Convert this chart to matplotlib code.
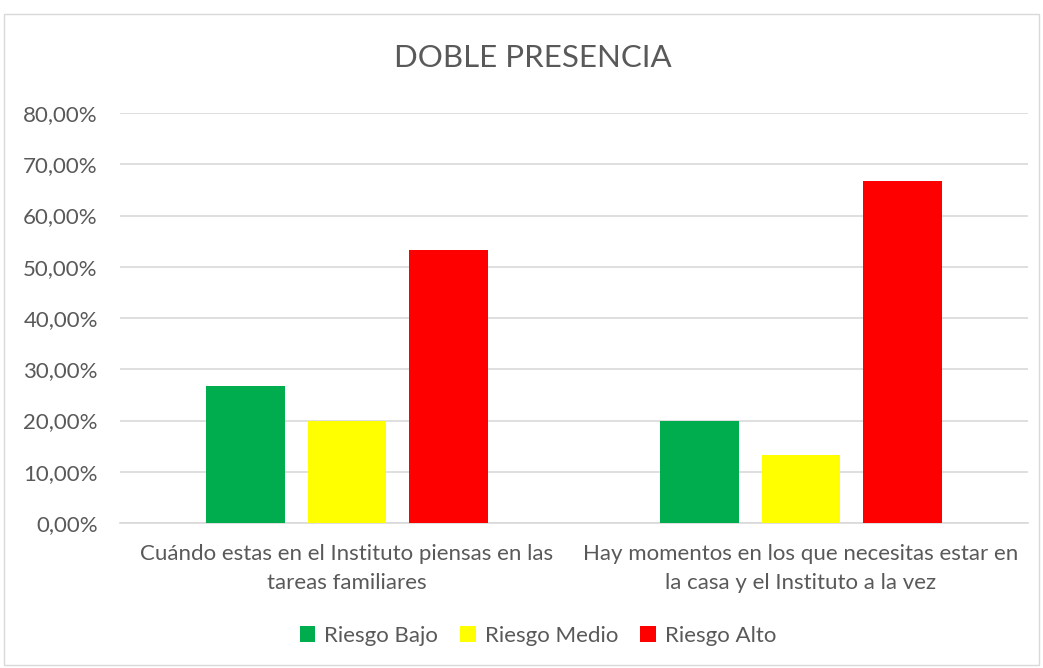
import numpy as np
import matplotlib.pyplot as plt
from matplotlib.patches import Rectangle
from matplotlib.ticker import FuncFormatter

plt.rcParams['font.family'] = ['Lato', 'DejaVu Sans']

# data
categorias = ['Cuándo estas en el Instituto piensas en las\ntareas familiares',
              'Hay momentos en los que necesitas estar en\nla casa y el Instituto a la vez']
series = ['Riesgo Bajo', 'Riesgo Medio', 'Riesgo Alto']
riesgo_bajo = [26.67, 20.00]
riesgo_medio = [20.00, 13.33]
riesgo_alto = [53.33, 66.67]
colores = ['#00ad4e', '#ffff00', '#ff0000']

fig = plt.figure(figsize=(10.43, 6.68), dpi=100)
ax = fig.add_axes([120 / 1043, 1 - 523 / 668, 908 / 1043, 410 / 668])

# light border around the chart
fig.patches.append(Rectangle((4 / 1043, 3 / 668), 1035 / 1043, 651 / 668,
                             transform=fig.transFigure, fill=False,
                             edgecolor='#d9d9d9', linewidth=1))

x = np.arange(len(categorias))
ancho = 0.174
paso = 0.2225
for i, (nombre, vals) in enumerate(zip(series, [riesgo_bajo, riesgo_medio, riesgo_alto])):
    ax.bar(x + (i - 1) * paso, vals, ancho, color=colores[i], label=nombre, zorder=3)

ax.set_xlim(-0.5, 1.5)
ax.set_ylim(0, 80)
ax.set_yticks(np.arange(0, 81, 10))
ax.yaxis.set_major_formatter(FuncFormatter(lambda v, p: f'{v:.2f}%'.replace('.', ',')))
ax.grid(axis='y', color='#d9d9d9', linewidth=1.2, zorder=0)
for s in ['top', 'right', 'left']:
    ax.spines[s].set_visible(False)
ax.spines['bottom'].set_color('#d9d9d9')
ax.spines['bottom'].set_linewidth(1.2)
ax.tick_params(length=0, labelsize=16, labelcolor='#595959')
ax.tick_params(axis='y', pad=16)
ax.tick_params(axis='x', pad=15)
ax.set_xticks(x)
ax.set_xticklabels(categorias, linespacing=1.55)

fig.text(533 / 1043, 1 - 58 / 668, 'DOBLE PRESENCIA', ha='center', va='center',
         fontsize=22.5, color='#595959')

fig.legend(loc='center', bbox_to_anchor=(538 / 1043, 1 - 636 / 668), ncol=3,
           frameon=False, fontsize=16, handlelength=0.7, handleheight=0.7,
           columnspacing=1.0, handletextpad=0.4, labelcolor='#595959')

fig.savefig('out.png', dpi=100)
